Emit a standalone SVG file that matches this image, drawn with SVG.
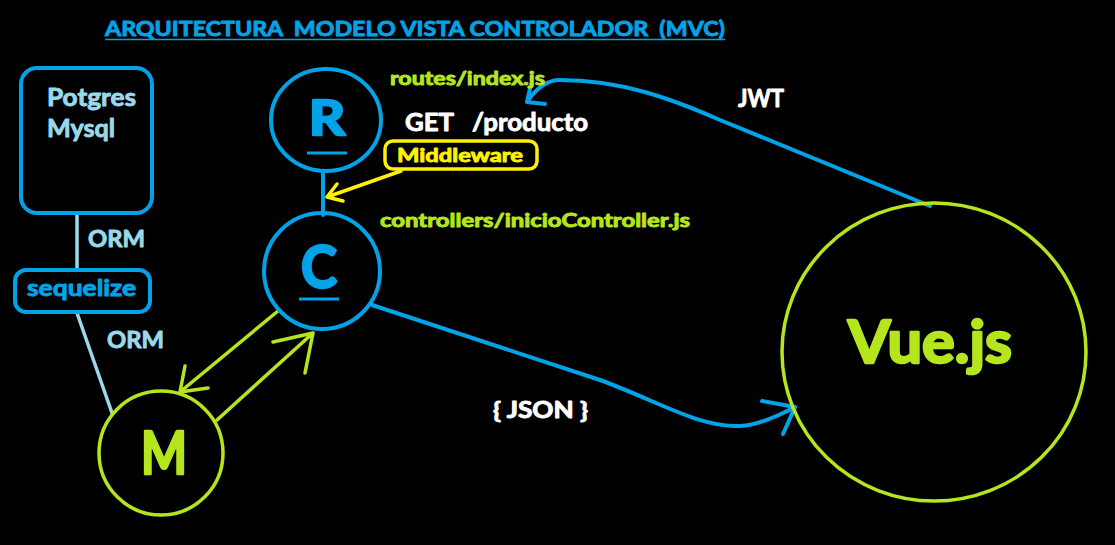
<svg xmlns="http://www.w3.org/2000/svg" width="1115" height="545" viewBox="0 0 1115 545">
<style>
text{font-family:Lato,"Open Sans","Liberation Sans",sans-serif;font-weight:700;stroke-width:0.9;stroke-linejoin:round}
.big{stroke-width:2.6}
.blue{fill:#00A2E8;stroke:#00A2E8}.lime{fill:#B5E61D;stroke:#B5E61D}.lb{fill:#99D9EA;stroke:#99D9EA}.yel{fill:#FFF200;stroke:#FFF200}.wh{fill:#FFFFFF;stroke:#FFFFFF}
.sb{stroke:#00A2E8;fill:none;stroke-width:4}
.sl{stroke:#B5E61D;fill:none;stroke-width:3.5}
.slb{stroke:#99D9EA;fill:none;stroke-width:3.5}
.sy{stroke:#FFF200;fill:none;stroke-width:3.5}
.ln{stroke-linecap:round;stroke-linejoin:round}
</style>
<rect width="1115" height="545" fill="#000"/>
<g id="title">
<text x="105" y="36" font-size="21" class="blue" textLength="620" lengthAdjust="spacingAndGlyphs" xml:space="preserve">ARQUITECTURA  MODELO VISTA CONTROLADOR  (MVC)</text>
<line x1="105" y1="39.5" x2="725" y2="39.5" stroke="#00A2E8" stroke-width="1.5"/>
</g>
<g id="connectors" class="ln">
<line class="slb" x1="77" y1="213" x2="77" y2="270"/>
<line class="slb" x1="77" y1="313" x2="112" y2="413"/>
<line class="sb" x1="323" y1="171" x2="323" y2="215"/>
<path class="sy" d="M401 171 L327 197 M343 201 L327 197 L337 184"/>
<path class="sl" d="M278 311 L180 392 M185 366 L180 392 L208 388"/>
<path class="sl" d="M217 420 L313 333 M273 342 L313 333 L305 373"/>
<path class="sb" d="M930 206 L720 120 C670 98 620 80 560 80 C545 80 535 90 527 102 M531 84 L527 102 L545 104"/>
<path class="sb" d="M372 305 L600 380 C660 402 700 428 740 426 C760 425 780 415 795 407 M762 401 L795 407 L783 434"/>
</g>
<g id="db">
<rect class="sb" x="21" y="68" width="131" height="145" rx="16"/>
<text x="47" y="106" font-size="25" class="lb" textLength="89" lengthAdjust="spacingAndGlyphs">Potgres</text>
<text x="47" y="137" font-size="25" class="lb" textLength="68" lengthAdjust="spacingAndGlyphs">Mysql</text>
</g>
<g id="orm1"><text x="88" y="247" font-size="23" class="lb" textLength="57" lengthAdjust="spacingAndGlyphs">ORM</text></g>
<g id="sequelize">
<rect class="sb" x="15" y="270" width="135" height="42" rx="11"/>
<text x="27" y="296" font-size="22" class="blue" textLength="109" lengthAdjust="spacingAndGlyphs">sequelize</text>
</g>
<g id="orm2"><text x="107" y="348" font-size="23" class="lb" textLength="57" lengthAdjust="spacingAndGlyphs">ORM</text></g>
<g id="model">
<circle class="sl" cx="161" cy="453" r="62"/>
<text x="141" y="474" font-size="60" class="lime big" textLength="46" lengthAdjust="spacingAndGlyphs">M</text>
</g>
<g id="router">
<ellipse class="sb" cx="326" cy="120" rx="55" ry="51"/>
<text x="309" y="135" font-size="48" class="blue big" textLength="36" lengthAdjust="spacingAndGlyphs">R</text>
<line x1="307" y1="153" x2="347" y2="153" stroke="#00A2E8" stroke-width="3"/>
</g>
<g id="controller">
<circle class="sb" cx="322" cy="271" r="58"/>
<text x="301" y="288" font-size="60" class="blue big" textLength="36" lengthAdjust="spacingAndGlyphs">C</text>
<line x1="299" y1="299" x2="339" y2="299" stroke="#00A2E8" stroke-width="3"/>
</g>
<g id="labels">
<text x="390" y="85" font-size="19" class="lime" textLength="155" lengthAdjust="spacingAndGlyphs">routes/index.js</text>
<text x="405" y="131" font-size="25" class="wh" textLength="183" lengthAdjust="spacingAndGlyphs" xml:space="preserve">GET   /producto</text>
<text x="380" y="227" font-size="19" class="lime" textLength="310" lengthAdjust="spacingAndGlyphs">controllers/inicioController.js</text>
<text x="738" y="107" font-size="25" class="wh" textLength="46" lengthAdjust="spacingAndGlyphs">JWT</text>
<text x="493" y="418" font-size="22" class="wh" textLength="95" lengthAdjust="spacingAndGlyphs">{ JSON }</text>
</g>
<g id="middleware">
<rect class="sy" x="385" y="141" width="152" height="28" rx="8"/>
<text x="397" y="162" font-size="19" class="yel" textLength="126" lengthAdjust="spacingAndGlyphs">Middleware</text>
</g>
<g id="vue">
<ellipse class="sl" cx="934" cy="352" rx="152" ry="149"/>
<text x="848" y="363" font-size="60" class="lime big" textLength="164" lengthAdjust="spacingAndGlyphs">Vue.js</text>
</g>
</svg>
